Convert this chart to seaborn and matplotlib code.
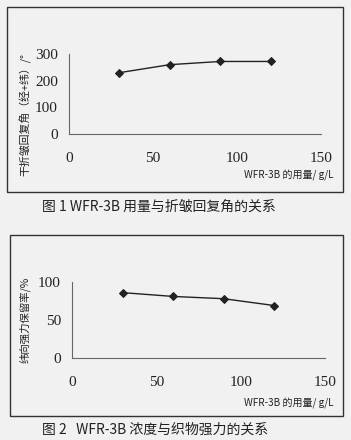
import matplotlib
matplotlib.use("Agg")
import matplotlib.pyplot as plt
import seaborn as sns
import pandas as pd
from matplotlib.patches import Rectangle

# data
dose = [30, 60, 90, 120]
crease_angle = [230, 260, 272, 272]
strength_keep = [86, 81, 78, 69]

xticks = [0, 50, 100, 150]
yticks1 = [0, 100, 200, 300]
yticks2 = [0, 50, 100]

sns.set_style("white")
plt.rcParams['font.family'] = ['Liberation Serif', 'Noto Sans CJK SC', 'DejaVu Sans']
cjk = ['Noto Sans CJK SC', 'DejaVu Sans']

fig = plt.figure(figsize=(3.51, 4.40), dpi=100, facecolor='#f1f1f1')
W, H = 351, 440

def fx(px):
    return px / W

def fy(py):
    return 1 - py / H

# frames round each panel
for x0, y0, x1, y1 in [(7, 7, 343, 192), (10, 235, 343, 416)]:
    fig.patches.append(Rectangle((fx(x0), fy(y1)), fx(x1 - x0), (y1 - y0) / H,
                                 transform=fig.transFigure, fill=False,
                                 edgecolor='#333333', lw=1.0))

ax1 = fig.add_axes([fx(69), fy(134), fx(321 - 69), (134 - 54) / H])
ax2 = fig.add_axes([fx(72), fy(358), fx(325 - 72), (358 - 282) / H])

df1 = pd.DataFrame({"x": dose, "y": crease_angle})
df2 = pd.DataFrame({"x": dose, "y": strength_keep})

for ax, df, yt, ymax in [(ax1, df1, yticks1, 300), (ax2, df2, yticks2, 100)]:
    sns.lineplot(data=df, x="x", y="y", ax=ax, color='#222222', lw=1.0,
                 marker='D', markersize=4.5, markeredgecolor='#222222')
    ax.set_xlim(0, 150)
    ax.set_ylim(0, ymax)
    ax.set_xticks(xticks)
    ax.set_yticks(yt)
    ax.set_facecolor('none')
    ax.set_xlabel("")
    ax.set_ylabel("")
    for s in ['top', 'right']:
        ax.spines[s].set_visible(False)
    for s in ['left', 'bottom']:
        ax.spines[s].set_color('#666666')
        ax.spines[s].set_linewidth(0.8)
    ax.tick_params(axis='x', direction='in', length=4, color='#666666',
                   pad=13, labelsize=11, labelcolor='#222222')
    ax.tick_params(axis='y', direction='in', length=4, color='#666666',
                   pad=8, labelsize=11, labelcolor='#222222')

fig.text(fx(25), fy(114), "干折皱回复角（经+纬）/°", rotation=90, ha='center',
         va='center', fontsize=7.8, family=cjk, color='#222222')
fig.text(fx(333), fy(175), "WFR-3B 的用量/ g/L", ha='right', va='center',
         fontsize=7.2, family=cjk, color='#222222')
fig.text(fx(42), fy(207), "图 1 WFR-3B 用量与折皱回复角的关系", ha='left',
         va='center', fontsize=10, family=cjk, color='#222222')

fig.text(fx(25), fy(320), "纬向强力保留率/%", rotation=90, ha='center',
         va='center', fontsize=7.5, family=cjk, color='#222222')
fig.text(fx(333), fy(403), "WFR-3B 的用量/ g/L", ha='right', va='center',
         fontsize=7.2, family=cjk, color='#222222')
fig.text(fx(42), fy(430), "图 2   WFR-3B 浓度与织物强力的关系", ha='left',
         va='center', fontsize=10, family=cjk, color='#222222')

fig.savefig("out.png", dpi=100, facecolor=fig.get_facecolor())
